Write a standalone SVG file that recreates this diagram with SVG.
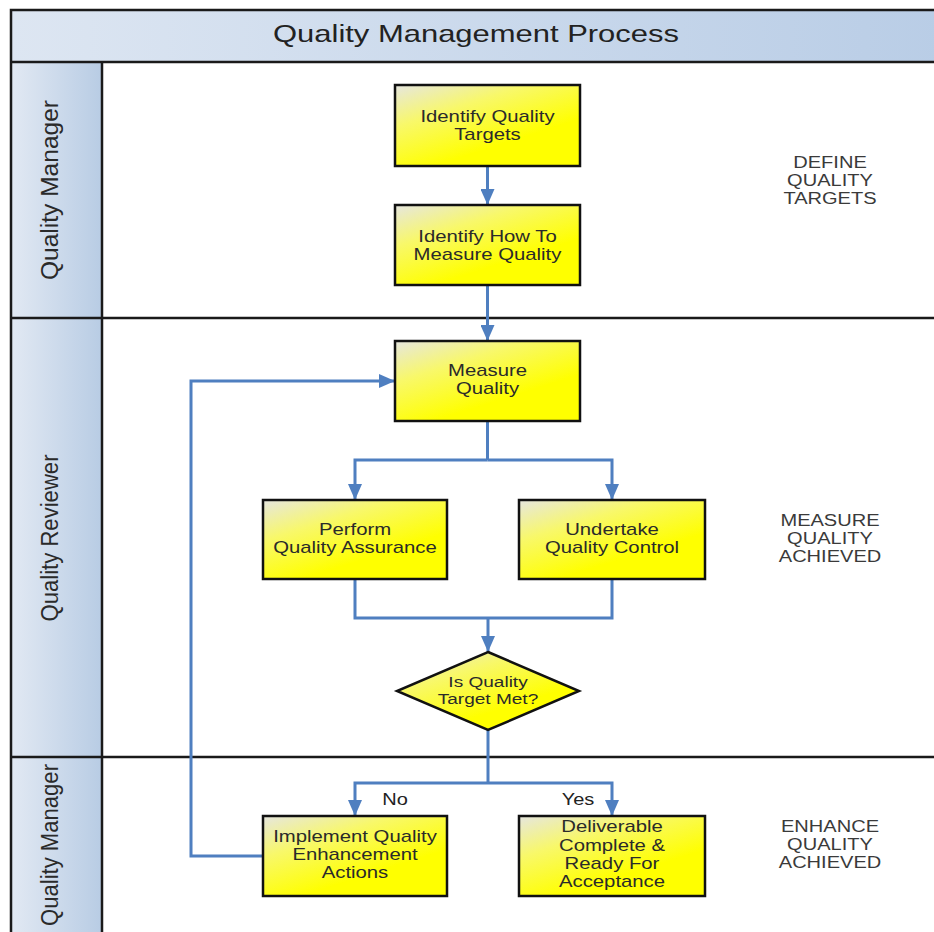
<svg xmlns="http://www.w3.org/2000/svg" width="934" height="932" viewBox="0 0 934 932">
  <defs>
    <linearGradient id="boxFill" x1="0" y1="0" x2="0.55" y2="0.75">
      <stop offset="0" stop-color="#e6e6e0"/>
      <stop offset="0.45" stop-color="#f8f86a"/>
      <stop offset="1" stop-color="#ffff00"/>
    </linearGradient>
    <linearGradient id="headFill" x1="0" y1="0" x2="1" y2="0">
      <stop offset="0" stop-color="#dde6f2"/>
      <stop offset="1" stop-color="#b9cde6"/>
    </linearGradient>
    <linearGradient id="laneFill" x1="0" y1="0" x2="1" y2="0">
      <stop offset="0" stop-color="#e2e9f3"/>
      <stop offset="1" stop-color="#b8cce4"/>
    </linearGradient>
    <marker id="arrow" markerUnits="userSpaceOnUse" markerWidth="16" markerHeight="14" viewBox="0 0 16 14" refX="16" refY="7" orient="auto">
      <path d="M0,0 L16,7 L0,14 z" fill="#4f7fc0"/>
    </marker>
  </defs>
  <style>
    .box { fill: url(#boxFill); stroke: #111; stroke-width: 2.5; }
    .t { font-family: "Liberation Sans", Arial, sans-serif; font-size: 16px; fill: #2a2a2a; text-anchor: middle; }
    .td { font-family: "Liberation Sans", Arial, sans-serif; font-size: 15px; fill: #2a2a2a; text-anchor: middle; }
    .lbl { font-family: "Liberation Sans", Arial, sans-serif; font-size: 16px; fill: #222; text-anchor: middle; }
    .side { font-family: "Liberation Sans", Arial, sans-serif; font-size: 17px; fill: #3a3a3a; text-anchor: middle; }
    .lane { font-family: "Liberation Sans", Arial, sans-serif; font-size: 23px; fill: #2a2a2a; text-anchor: middle; }
    .title { font-family: "Liberation Sans", Arial, sans-serif; font-size: 24px; fill: #222; text-anchor: middle; }
    .frame { fill: none; stroke: #1a1a1a; stroke-width: 2.5; }
    .conn { fill: none; stroke: #4f7fc0; stroke-width: 3; }
  </style>

  <rect x="0" y="0" width="934" height="932" fill="#ffffff"/>

  <!-- Pool header -->
  <g id="header">
    <rect x="11" y="10" width="930" height="52" fill="url(#headFill)"/>
    <text class="title" transform="translate(476,0) scale(1.29,1)" x="0" y="42">Quality Management Process</text>
  </g>

  <!-- Lanes -->
  <g id="lane1">
    <rect x="11" y="62" width="91" height="256" fill="url(#laneFill)"/>
    <text class="lane" transform="translate(58,190) rotate(-90)" x="0" y="0" textLength="180" lengthAdjust="spacingAndGlyphs">Quality Manager</text>
  </g>
  <g id="lane2">
    <rect x="11" y="318" width="91" height="439" fill="url(#laneFill)"/>
    <text class="lane" transform="translate(58,538) rotate(-90)" x="0" y="0" textLength="167" lengthAdjust="spacingAndGlyphs">Quality Reviewer</text>
  </g>
  <g id="lane3">
    <rect x="11" y="757" width="91" height="180" fill="url(#laneFill)"/>
    <text class="lane" transform="translate(58,845) rotate(-90)" x="0" y="0" textLength="162" lengthAdjust="spacingAndGlyphs">Quality Manager</text>
  </g>

  <!-- Frame lines -->
  <g id="frame">
    <path class="frame" d="M941,10 H11 V940"/>
    <path class="frame" d="M11,62 H941"/>
    <path class="frame" d="M11,318 H941"/>
    <path class="frame" d="M11,757 H941"/>
    <path class="frame" d="M102,62 V940"/>
  </g>

  <!-- Phase labels -->
  <g id="phase1">
    <text class="side" transform="translate(830,0) scale(1.18,1)" x="0" y="168">DEFINE</text>
    <text class="side" transform="translate(830,0) scale(1.18,1)" x="0" y="186">QUALITY</text>
    <text class="side" transform="translate(830,0) scale(1.18,1)" x="0" y="204">TARGETS</text>
  </g>
  <g id="phase2">
    <text class="side" transform="translate(830,0) scale(1.18,1)" x="0" y="526">MEASURE</text>
    <text class="side" transform="translate(830,0) scale(1.18,1)" x="0" y="544">QUALITY</text>
    <text class="side" transform="translate(830,0) scale(1.18,1)" x="0" y="562">ACHIEVED</text>
  </g>
  <g id="phase3">
    <text class="side" transform="translate(830,0) scale(1.18,1)" x="0" y="832">ENHANCE</text>
    <text class="side" transform="translate(830,0) scale(1.18,1)" x="0" y="850">QUALITY</text>
    <text class="side" transform="translate(830,0) scale(1.18,1)" x="0" y="868">ACHIEVED</text>
  </g>

  <!-- Connectors -->
  <g id="connectors">
    <path class="conn" d="M487.5,166 V205" marker-end="url(#arrow)"/>
    <path class="conn" d="M487.5,285 V341" marker-end="url(#arrow)"/>
    <path class="conn" d="M487.5,421 V460"/>
    <path class="conn" d="M487.5,460 H355 V500" marker-end="url(#arrow)"/>
    <path class="conn" d="M487.5,460 H612 V500" marker-end="url(#arrow)"/>
    <path class="conn" d="M355,579 V618 H612 V579"/>
    <path class="conn" d="M488,618 V652" marker-end="url(#arrow)"/>
    <path class="conn" d="M488,730 V783"/>
    <path class="conn" d="M488,783 H355 V816" marker-end="url(#arrow)"/>
    <path class="conn" d="M488,783 H612 V816" marker-end="url(#arrow)"/>
    <path class="conn" d="M263,856 H191 V381 H395" marker-end="url(#arrow)"/>
    <text class="lbl" transform="translate(395,0) scale(1.25,1)" x="0" y="805">No</text>
    <text class="lbl" transform="translate(578,0) scale(1.25,1)" x="0" y="805">Yes</text>
  </g>

  <!-- Nodes -->
  <g id="identify-targets">
    <rect class="box" x="395" y="85" width="185" height="81"/>
    <text class="t" transform="translate(487.5,0) scale(1.27,1)" x="0" y="122">Identify Quality</text>
    <text class="t" transform="translate(487.5,0) scale(1.27,1)" x="0" y="140">Targets</text>
  </g>
  <g id="identify-measure">
    <rect class="box" x="395" y="205" width="185" height="80"/>
    <text class="t" transform="translate(487.5,0) scale(1.27,1)" x="0" y="242">Identify How To</text>
    <text class="t" transform="translate(487.5,0) scale(1.27,1)" x="0" y="260">Measure Quality</text>
  </g>
  <g id="measure-quality">
    <rect class="box" x="395" y="341" width="185" height="80"/>
    <text class="t" transform="translate(487.5,0) scale(1.27,1)" x="0" y="376">Measure</text>
    <text class="t" transform="translate(487.5,0) scale(1.27,1)" x="0" y="394">Quality</text>
  </g>
  <g id="quality-assurance">
    <rect class="box" x="263" y="500" width="184" height="79"/>
    <text class="t" transform="translate(355,0) scale(1.27,1)" x="0" y="535">Perform</text>
    <text class="t" transform="translate(355,0) scale(1.27,1)" x="0" y="553">Quality Assurance</text>
  </g>
  <g id="quality-control">
    <rect class="box" x="519" y="500" width="186" height="79"/>
    <text class="t" transform="translate(612,0) scale(1.27,1)" x="0" y="535">Undertake</text>
    <text class="t" transform="translate(612,0) scale(1.27,1)" x="0" y="553">Quality Control</text>
  </g>
  <g id="decision">
    <polygon class="box" points="488,652 579,691 488,730 397,691"/>
    <text class="td" transform="translate(488,0) scale(1.27,1)" x="0" y="687">Is Quality</text>
    <text class="td" transform="translate(488,0) scale(1.27,1)" x="0" y="704">Target Met?</text>
  </g>
  <g id="enhance">
    <rect class="box" x="263" y="816" width="184" height="80"/>
    <text class="t" transform="translate(355,0) scale(1.27,1)" x="0" y="842">Implement Quality</text>
    <text class="t" transform="translate(355,0) scale(1.27,1)" x="0" y="860">Enhancement</text>
    <text class="t" transform="translate(355,0) scale(1.27,1)" x="0" y="878">Actions</text>
  </g>
  <g id="deliverable">
    <rect class="box" x="519" y="816" width="186" height="80"/>
    <text class="t" transform="translate(612,0) scale(1.27,1)" x="0" y="832">Deliverable</text>
    <text class="t" transform="translate(612,0) scale(1.27,1)" x="0" y="851">Complete &amp;</text>
    <text class="t" transform="translate(612,0) scale(1.27,1)" x="0" y="869">Ready For</text>
    <text class="t" transform="translate(612,0) scale(1.27,1)" x="0" y="887">Acceptance</text>
  </g>
</svg>
